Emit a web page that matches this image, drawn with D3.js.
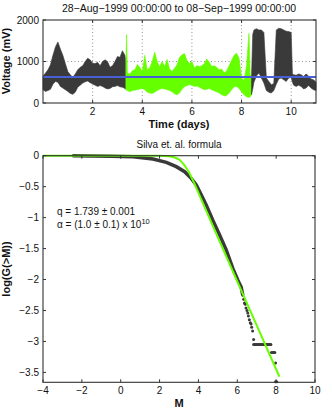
<!DOCTYPE html>
<html>
<head>
<meta charset="utf-8">
<script src="https://cdn.jsdelivr.net/npm/d3@7"></script>
<style>
  body { margin: 0; background: #fff; }
  svg { display: block; font-family: "Liberation Sans", Arial, sans-serif; }
</style>
</head>
<body>
<svg id="chart" width="332" height="412"></svg>
<script>
// ---- top panel: voltage envelope ----
var days = [0, 0.1, 0.2, 0.3, 0.4, 0.5, 0.6, 0.7, 0.8, 0.9, 1.0, 1.1, 1.2, 1.3, 1.4, 1.5, 1.6, 1.7, 1.8, 1.9,
  2.0, 2.1, 2.2, 2.3, 2.4, 2.5, 2.6, 2.7, 2.8, 2.9, 3.0, 3.1, 3.2, 3.3, 3.34, 3.37, 3.4, 3.5, 3.6, 3.7, 3.8, 3.9,
  4.0, 4.1, 4.2, 4.3, 4.4, 4.5, 4.6, 4.7, 4.8, 4.9, 5.0, 5.1, 5.2, 5.3, 5.4, 5.5, 5.6, 5.7, 5.8, 5.9,
  6.0, 6.1, 6.2, 6.3, 6.4, 6.5, 6.6, 6.7, 6.8, 6.9, 7.0, 7.1, 7.2, 7.3, 7.4, 7.5, 7.6, 7.7, 7.8, 7.9,
  8.0, 8.1, 8.2, 8.3, 8.35, 8.4, 8.45, 8.5, 8.6, 8.7, 8.8, 8.9, 9.0, 9.1, 9.2, 9.3, 9.4, 9.5, 9.6, 9.7, 9.8, 9.9,
  10.0, 10.05, 10.1, 10.2, 10.3, 10.4, 10.5, 10.6, 10.7, 10.8, 10.9, 11.0];
var vHigh = [650, 720, 800, 920, 1150, 1350, 1470, 1300, 1150, 950, 760, 680, 620, 700, 800, 860, 900, 1000, 1080, 1040,
  960, 950, 980, 900, 1000, 1040, 1000, 860, 900, 1000, 1120, 1100, 1260, 1150, 1000, 1650, 720, 700, 780, 800, 930, 860,
  760, 1150, 800, 850, 1000, 1230, 1000, 880, 1000, 880, 1050, 820, 760, 840, 920, 1100, 1160, 1190, 1030, 950,
  1000, 850, 900, 880, 900, 950, 1060, 980, 880, 900, 860, 800, 820, 720, 780, 900, 1030, 1150, 1200, 1080,
  600, 550, 900, 1680, 700, 600, 1650, 1760, 1790, 1760, 1760, 1700, 600, 520, 440, 470, 1760, 1800, 1790, 1760, 1730, 1720,
  1700, 700, 680, 670, 700, 680, 640, 700, 650, 580, 560, 500];
var vLow = [320, 280, 300, 330, 450, 520, 500, 400, 360, 320, 280, 230, 210, 260, 380, 430, 480, 510, 530, 490,
  460, 430, 400, 420, 400, 360, 340, 350, 390, 400, 420, 390, 380, 350, 330, 300, 300, 270, 300, 310, 320, 340,
  350, 320, 260, 240, 230, 260, 300, 330, 350, 340, 320, 300, 270, 220, 200, 240, 330, 390, 420, 440,
  430, 400, 410, 380, 350, 320, 330, 350, 320, 290, 270, 240, 200, 170, 180, 240, 320, 390, 400, 350,
  270, 200, 150, 130, 150, 200, 330, 500, 650, 720, 600, 480, 300, 260, 240, 300, 450, 580, 600, 560, 520, 600,
  620, 500, 430, 400, 430, 400, 340, 360, 420, 360, 320, 300];
var greenFrom = 3.34, greenTo = 8.4;
var meanVoltage = 625;

var xTicksTop = [2, 4, 6, 8, 10];
var yTicksTop = [0, 1000, 2000];

// ---- bottom panel: cumulative distribution + fit ----
var dataM = [-2.44, -1.5, -0.5, 0.64, 1.66, 2.35, 2.86, 3.29, 3.63, 3.89, 4.15, 4.4, 4.74, 5.09, 5.43, 5.77, 6.03, 6.2, 6.28];
var dataLogG = [0, -0.003, -0.008, -0.016, -0.053, -0.107, -0.177, -0.258, -0.366, -0.473, -0.635, -0.796, -1.04, -1.28, -1.52, -1.82, -2.01, -2.12, -2.25];
var tailM = [6.33, 6.37, 6.41, 6.45, 6.5, 6.54, 6.57, 6.62, 6.67, 6.71, 6.74, 6.79, 6.84,
  6.84, 6.89, 6.94, 6.99, 7.04, 7.09, 7.14, 7.19, 7.24, 7.29, 7.34, 7.39, 7.44, 7.49, 7.54, 7.59, 7.64, 7.69, 7.73,
  7.76, 7.82, 7.88, 7.93, 7.97, 7.97, 8.03];
var tailLogG = [-2.32, -2.38, -2.4, -2.46, -2.5, -2.54, -2.59, -2.65, -2.7, -2.72, -2.77, -2.83, -2.97,
  -3.05, -3.05, -3.05, -3.05, -3.05, -3.05, -3.05, -3.05, -3.05, -3.05, -3.05, -3.05, -3.05, -3.05, -3.05, -3.05, -3.05, -3.05, -3.05,
  -3.18, -3.18, -3.18, -3.18, -3.35, -3.65, -3.65];
var fitM = [-4, 2, 2.5, 2.75, 3, 3.25, 3.5, 3.75, 4, 4.5, 5, 6, 7, 8.17];
var fitLogG = [0, 0, -0.01, -0.025, -0.06, -0.14, -0.26, -0.42, -0.6, -0.96, -1.32, -2.03, -2.74, -3.57];

var xTicksBot = [-4, -2, 0, 2, 4, 6, 8, 10];
var yTicksBot = [0, -0.5, -1, -1.5, -2, -2.5, -3, -3.5];

var svg = d3.select("#chart");
var frameCol = "#333", darkCol = "#3a3a3a", greenCol = "#66ff00";
var tickLen = 3;
var minusFmt = function(v) { return String(v).replace("-", "\u2212"); };

function drawGrid(g, x, y, xt, yt) {
  var x0 = x.range()[0], x1 = x.range()[1], y0 = y.range()[0], y1 = y.range()[1];
  g.selectAll(".gx").data(xt).enter().append("line")
    .attr("x1", d => x(d)).attr("x2", d => x(d)).attr("y1", y0).attr("y2", y1)
    .attr("stroke", "#777").attr("stroke-width", 0.8).attr("stroke-dasharray", "1,2.5");
  g.selectAll(".gy").data(yt.filter(d => d > y.domain()[0] && d < y.domain()[1])).enter().append("line")
    .attr("x1", x0).attr("x2", x1).attr("y1", d => y(d)).attr("y2", d => y(d))
    .attr("stroke", "#777").attr("stroke-width", 0.8).attr("stroke-dasharray", "1,2.5");
}

function drawBox(g, x, y, xt, yt, fmt) {
  var x0 = x.range()[0], x1 = x.range()[1], y0 = y.range()[0], y1 = y.range()[1];
  // ticks inward on all four sides
  xt.forEach(function(d) {
    g.append("line").attr("x1", x(d)).attr("x2", x(d)).attr("y1", y0).attr("y2", y0 - tickLen).attr("stroke", frameCol);
    g.append("line").attr("x1", x(d)).attr("x2", x(d)).attr("y1", y1).attr("y2", y1 + tickLen).attr("stroke", frameCol);
  });
  yt.forEach(function(d) {
    g.append("line").attr("x1", x0).attr("x2", x0 + tickLen).attr("y1", y(d)).attr("y2", y(d)).attr("stroke", frameCol);
    g.append("line").attr("x1", x1).attr("x2", x1 - tickLen).attr("y1", y(d)).attr("y2", y(d)).attr("stroke", frameCol);
  });
  g.append("rect").attr("x", x0).attr("y", y1).attr("width", x1 - x0).attr("height", y0 - y1)
    .attr("fill", "none").attr("stroke", frameCol).attr("stroke-width", 1.1);
  g.selectAll(".xl").data(xt).enter().append("text")
    .attr("x", d => x(d)).attr("y", y0 + 12).attr("text-anchor", "middle")
    .attr("font-size", "10px").attr("fill", "#111").text(fmt);
  g.selectAll(".yl").data(yt).enter().append("text")
    .attr("x", x0 - 4).attr("y", d => y(d) + 3.5).attr("text-anchor", "end")
    .attr("font-size", "10px").attr("fill", "#111").text(fmt);
}

// ================= top panel =================
var xTop = d3.scaleLinear().domain([0, 11]).range([43, 316]);
var yTop = d3.scaleLinear().domain([0, 2000]).range([103, 20]);
var topG = svg.append("g");

drawGrid(topG, xTop, yTop, xTicksTop, yTicksTop);

var pts = days.map(function(d, i) { return { t: d, hi: vHigh[i], lo: vLow[i] }; });
var band = d3.area().x(d => xTop(d.t)).y0(d => yTop(d.lo)).y1(d => yTop(d.hi));
var segs = [
  { col: darkCol, data: pts.filter(p => p.t <= greenFrom) },
  { col: greenCol, data: pts.filter(p => p.t >= greenFrom && p.t <= greenTo) },
  { col: darkCol, data: pts.filter(p => p.t >= greenTo) }
];
topG.selectAll(".seg").data(segs).enter().append("path")
  .attr("d", s => band(s.data)).attr("fill", s => s.col)
  .attr("stroke", s => s.col).attr("stroke-width", 0.6);

topG.append("line")
  .attr("x1", xTop(0)).attr("x2", xTop(11))
  .attr("y1", yTop(meanVoltage)).attr("y2", yTop(meanVoltage))
  .attr("stroke", "#4a5fd6").attr("stroke-width", 2);

drawBox(topG, xTop, yTop, xTicksTop, yTicksTop, d => String(d));

svg.append("text").attr("x", 179).attr("y", 12).attr("text-anchor", "middle")
  .attr("font-size", "10.5px").attr("fill", "#111")
  .text("28\u2212Aug\u22121999 00:00:00 to 08\u2212Sep\u22121999 00:00:00");
svg.append("text").attr("x", 179).attr("y", 128).attr("text-anchor", "middle")
  .attr("font-size", "11px").attr("font-weight", "bold").attr("fill", "#111").text("Time (days)");
svg.append("text").attr("transform", "translate(10,61) rotate(-90)").attr("text-anchor", "middle")
  .attr("font-size", "11px").attr("font-weight", "bold").attr("fill", "#111").text("Voltage (mV)");

// ================= bottom panel =================
var xBot = d3.scaleLinear().domain([-4, 10]).range([43, 315]);
var yBot = d3.scaleLinear().domain([-3.66, 0]).range([382.3, 155.7]);
var botG = svg.append("g");

var curve = d3.line().x(d => xBot(d[0])).y(d => yBot(d[1]));
botG.append("path").datum(dataM.map((m, i) => [m, dataLogG[i]]))
  .attr("d", curve).attr("fill", "none").attr("stroke", darkCol).attr("stroke-width", 3.5)
  .attr("stroke-linecap", "round");
botG.selectAll(".tail").data(tailM.map((m, i) => [m, tailLogG[i]])).enter().append("circle")
  .attr("cx", d => xBot(d[0])).attr("cy", d => yBot(d[1])).attr("r", 1.5).attr("fill", darkCol);
botG.append("path").datum(fitM.map((m, i) => [m, fitLogG[i]]))
  .attr("d", curve).attr("fill", "none").attr("stroke", greenCol).attr("stroke-width", 2);

drawBox(botG, xBot, yBot, xTicksBot, yTicksBot, minusFmt);

svg.append("text").attr("x", 179).attr("y", 148).attr("text-anchor", "middle")
  .attr("font-size", "10px").attr("fill", "#111").text("Silva et. al. formula");
svg.append("text").attr("x", 179).attr("y", 407).attr("text-anchor", "middle")
  .attr("font-size", "11px").attr("font-weight", "bold").attr("fill", "#111").text("M");
svg.append("text").attr("transform", "translate(10,269) rotate(-90)").attr("text-anchor", "middle")
  .attr("font-size", "11px").attr("font-weight", "bold").attr("fill", "#111").text("log(G(>M))");

var ann = svg.append("g").attr("font-size", "10px").attr("fill", "#111");
ann.append("text").attr("x", 57).attr("y", 215).text("q = 1.739 \u00b1 0.001");
var a2 = ann.append("text").attr("x", 57).attr("y", 228);
a2.append("tspan").text("\u03b1 = (1.0 \u00b1 0.1) x 10");
a2.append("tspan").attr("dy", -4).attr("font-size", "7.5px").text("10");
</script>
</body>
</html>
